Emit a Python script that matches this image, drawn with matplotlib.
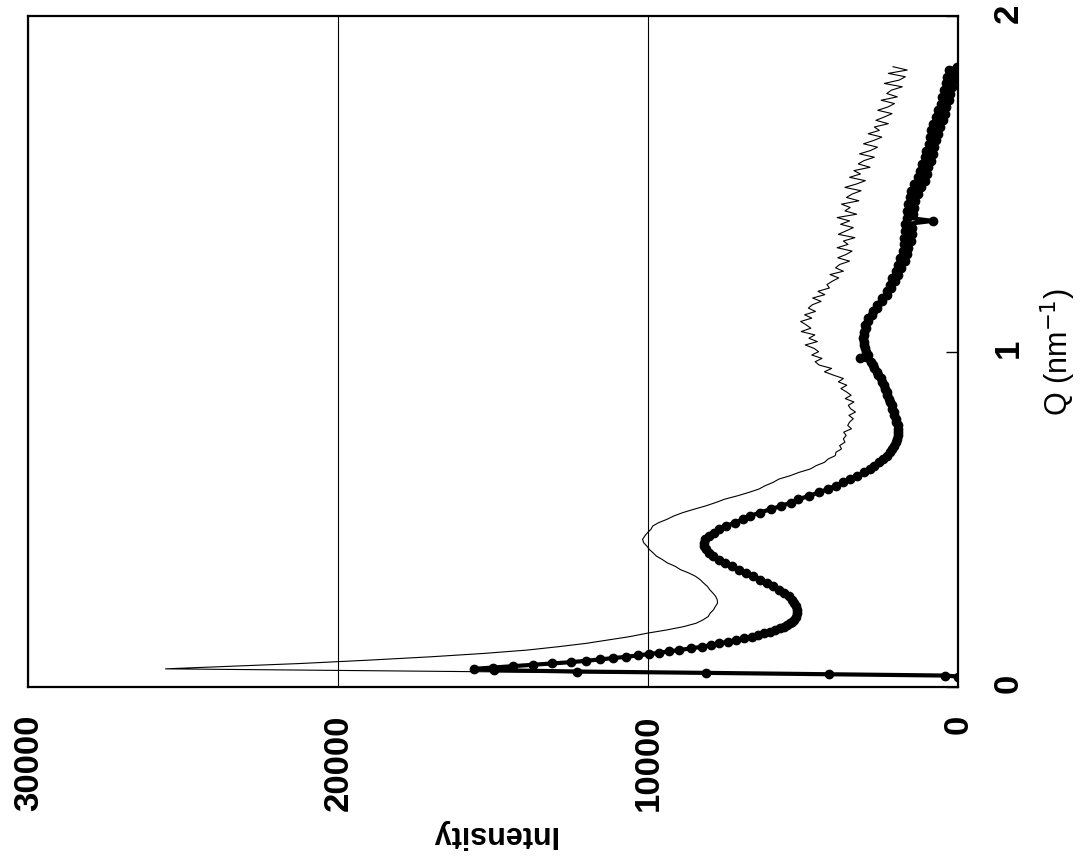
import numpy as np
import matplotlib.pyplot as plt

plt.rcParams['font.family'] = ['Liberation Sans', 'DejaVu Sans']

# rising edge at the beam stop
thin_edge_q = [0.033, 0.045, 0.054]
thin_edge_i = [0, 14900, 25570]
thick_edge_q = [0.031, 0.034, 0.038, 0.042, 0.046, 0.050, 0.054]
thick_edge_i = [0, 420, 4150, 8130, 12280, 14980, 15620]

# steep decay of the thick curve, sampled finer
thick_steep_q = [0.058, 0.062, 0.066, 0.070, 0.074, 0.078, 0.082, 0.086, 0.090,
                 0.094, 0.098, 0.102, 0.106, 0.110, 0.115, 0.120, 0.125, 0.130,
                 0.135, 0.140, 0.145, 0.150, 0.155, 0.160, 0.165, 0.170, 0.175,
                 0.180, 0.185, 0.190, 0.195]
thick_steep_i = [15000, 14350, 13720, 13100, 12480, 12000, 11560, 11130, 10700,
                 10330, 9980, 9640, 9320, 9000, 8620, 8250, 7970, 7700,
                 7420, 7150, 6900, 6650, 6450, 6250, 6070, 5900, 5760,
                 5630, 5520, 5420, 5360]

# measurement grids
q_thin = np.round(np.arange(0.06, 1.855, 0.01), 2)
q_thick = np.round(np.arange(0.20, 1.855, 0.01), 2)

thin_i = [
    23900, 21200, 19000, 17000, 15300, 13900, 12900, 12000, 11300, 10600,
    10050, 9400, 8850, 8450, 8230, 8060, 8000, 7890, 7830, 7760,
    7770, 7820, 7910, 8010, 8090, 8210, 8320, 8470, 8690, 8960,
    9130, 9380, 9540, 9730, 9840, 9960, 10040, 10140, 10180, 10110,
    10020, 9910, 9850, 9660, 9390, 9170, 8880, 8520, 8140, 7820,
    7530, 7120, 6760, 6430,
    6230, 5970, 5780, 5420, 5130, 4770, 4580, 4310, 4190, 3960,
    3940, 3760, 3820, 3650, 3700, 3610, 3690, 3440, 3560, 3500,
    3380, 3520, 3310, 3470, 3540, 3360, 3640, 3450, 3600, 3780,
    3590, 3860, 3700, 4020, 4310, 4080, 4480, 4610, 4390, 4720,
    4500, 4650, 4930, 4540, 4810, 4620, 5060, 4750, 4900, 5080,
    4720, 4950, 4600, 4830, 4700, 4420, 4690, 4300, 4520, 4150,
    4230, 4060, 3850, 4130, 3700, 3950, 3820, 3500, 3880, 3610,
    3420, 3900, 3550, 3700, 3330, 3860, 3620, 3380, 3790, 3500,
    3900, 3270, 3650, 3480, 3760, 3200, 3600, 3420, 3130, 3650,
    3280, 2990, 3500, 3150, 3360, 2840, 3220, 3030, 2700, 3180,
    2820, 2600, 3050, 2720, 2460, 2900, 2540, 2700, 2250, 2650,
    2380, 2130, 2590, 2260, 2050, 2480, 1960, 2300, 2150, 1800,
    2380, 1900, 1700, 2250, 1640, 2100,
]

thick_i = [
    5300, 5230, 5200, 5190, 5220, 5280,
    5360, 5450, 5600, 5780, 5970, 6150, 6380, 6620, 6850, 7080,
    7300, 7520, 7720, 7900, 8030, 8120, 8190, 8210, 8150, 8020,
    7870, 7720, 7480, 7200, 6950, 6700, 6400, 6050, 5700, 5400,
    5150, 4800, 4500, 4200, 3950, 3700, 3480, 3250, 3050, 2850,
    2700, 2550, 2420, 2300, 2200, 2120, 2060, 2010, 1980, 1950,
    1930, 1940, 1950, 2000, 2010, 2060, 2070, 2120, 2140, 2210,
    2220, 2280, 2300, 2360, 2390, 2460, 2500, 2580, 2620, 2710,
    2740, 2810, 3150, 2890, 2960, 2990, 3050, 3040, 3080, 3030,
    3050, 2980, 2990, 2920, 2900, 2780, 2760, 2620, 2600, 2450,
    2440, 2290, 2300, 2150, 2180, 2040, 2120, 1940, 2010, 1830,
    1950, 1720, 1880, 1640, 1780, 1600, 1760, 1520, 1740, 1500,
    1700, 1480, 1720, 820, 1660, 1460, 1650, 1420, 1600, 1380,
    1540, 1300, 1520, 1180, 1420, 1080, 1300, 1000, 1220, 960,
    1150, 880, 1080, 800, 1020, 760, 950, 700, 900, 640,
    860, 580, 820, 500, 720, 420, 640, 380, 560, 300,
    520, 250, 450, 180, 400, 120, 350, 60, 280, 20,
]

thin_q = list(thin_edge_q) + list(q_thin)
thin_all = thin_edge_i + thin_i
thick_q = list(thick_edge_q) + thick_steep_q + list(q_thick)
thick_all = thick_edge_i + thick_steep_i + thick_i

fig = plt.figure(figsize=(10.85, 8.63), dpi=100)
ax = fig.add_axes([0.026, 0.204, 0.857, 0.777])

# the chart is drawn turned on its side: intensity runs right to left, Q runs upward
ax.plot(thin_all, thin_q, color='black', lw=0.8)
ax.plot(thick_all, thick_q, color='black', lw=3, marker='o', ms=6)

ax.set_xlim(30000, 0)
ax.set_ylim(0, 2)
ax.set_xticks([0, 10000, 20000, 30000])
ax.set_yticks([0, 1, 2])
ax.xaxis.grid(True, color='black', lw=0.8)

ax.yaxis.tick_right()
ax.yaxis.set_label_position('right')
ax.tick_params(axis='x', direction='in', length=0, pad=20, labelrotation=90,
               labelsize=25)
ax.tick_params(axis='y', direction='in', length=9, width=1, pad=24,
               labelrotation=90, labelsize=25)
for lab in ax.get_xticklabels() + ax.get_yticklabels():
    lab.set_fontweight('bold')

ax.set_xlabel('Intensity', rotation=180, fontsize=22, fontweight='bold', labelpad=6)
ax.set_ylabel('Q (nm$^{-1}$)', rotation=90, fontsize=22, labelpad=10)

for s in ax.spines.values():
    s.set_linewidth(1.6)

fig.savefig('out.png', dpi=100)
